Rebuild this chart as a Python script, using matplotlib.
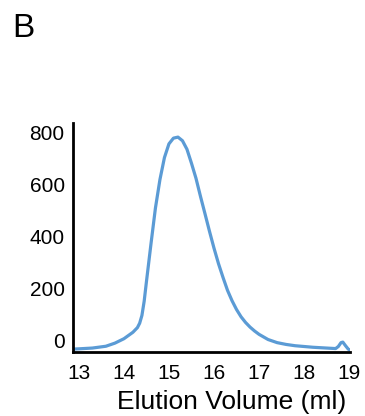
import matplotlib.pyplot as plt

plt.rcParams['font.family'] = ['Liberation Sans', 'DejaVu Sans']

# elution profile
volume = [12.87, 13.0, 13.3, 13.6, 13.8, 14.0, 14.2, 14.3, 14.35, 14.4, 14.45, 14.5,
          14.6, 14.7, 14.8, 14.9, 15.0, 15.1, 15.2, 15.3, 15.4, 15.5, 15.6, 15.7,
          15.8, 15.9, 16.0, 16.1, 16.2, 16.3, 16.4, 16.5, 16.6, 16.7, 16.8, 16.9,
          17.0, 17.2, 17.4, 17.6, 17.8, 18.0, 18.2, 18.4, 18.6, 18.7, 18.76, 18.82,
          18.86, 18.92, 18.98, 19.03]
signal = [-35, -34, -31, -24, -12, 5, 30, 48, 65, 95, 150, 225,
          370, 510, 620, 705, 758, 780, 784, 770, 737, 683, 625, 555,
          488, 420, 355, 295, 242, 192, 152, 118, 90, 68, 50, 35,
          22, 2, -10, -17, -22, -25, -28, -30, -32, -33, -25, -10,
          -8, -22, -35, -40]

xticks = [13, 14, 15, 16, 17, 18, 19]
yticks = [0, 200, 400, 600, 800]

fig = plt.figure(figsize=(3.65, 4.16), dpi=100)
ax = fig.add_axes([0.2, 0.154, 0.759, 0.55])

ax.plot(volume, signal, color='#5b9bd5', lw=2.3, solid_joinstyle='round',
        solid_capstyle='round')

ax.set_xlim(12.87, 19.02)
ax.set_ylim(-46, 838)
ax.set_xticks(xticks)
ax.set_yticks(yticks)
ax.spines['top'].set_visible(False)
ax.spines['right'].set_visible(False)
ax.spines['left'].set_linewidth(2)
ax.spines['bottom'].set_linewidth(2)
ax.tick_params(axis='both', length=0, labelsize=15)
ax.tick_params(axis='y', pad=6)
ax.tick_params(axis='x', pad=9)
# label sits right of the axis centre in the original
ax.set_xlabel('Elution Volume (ml)', fontsize=19, labelpad=5, x=0.574)

fig.text(0.034, 0.911, 'B', fontsize=24, ha='left', va='baseline')

fig.savefig('out.png', dpi=100)
